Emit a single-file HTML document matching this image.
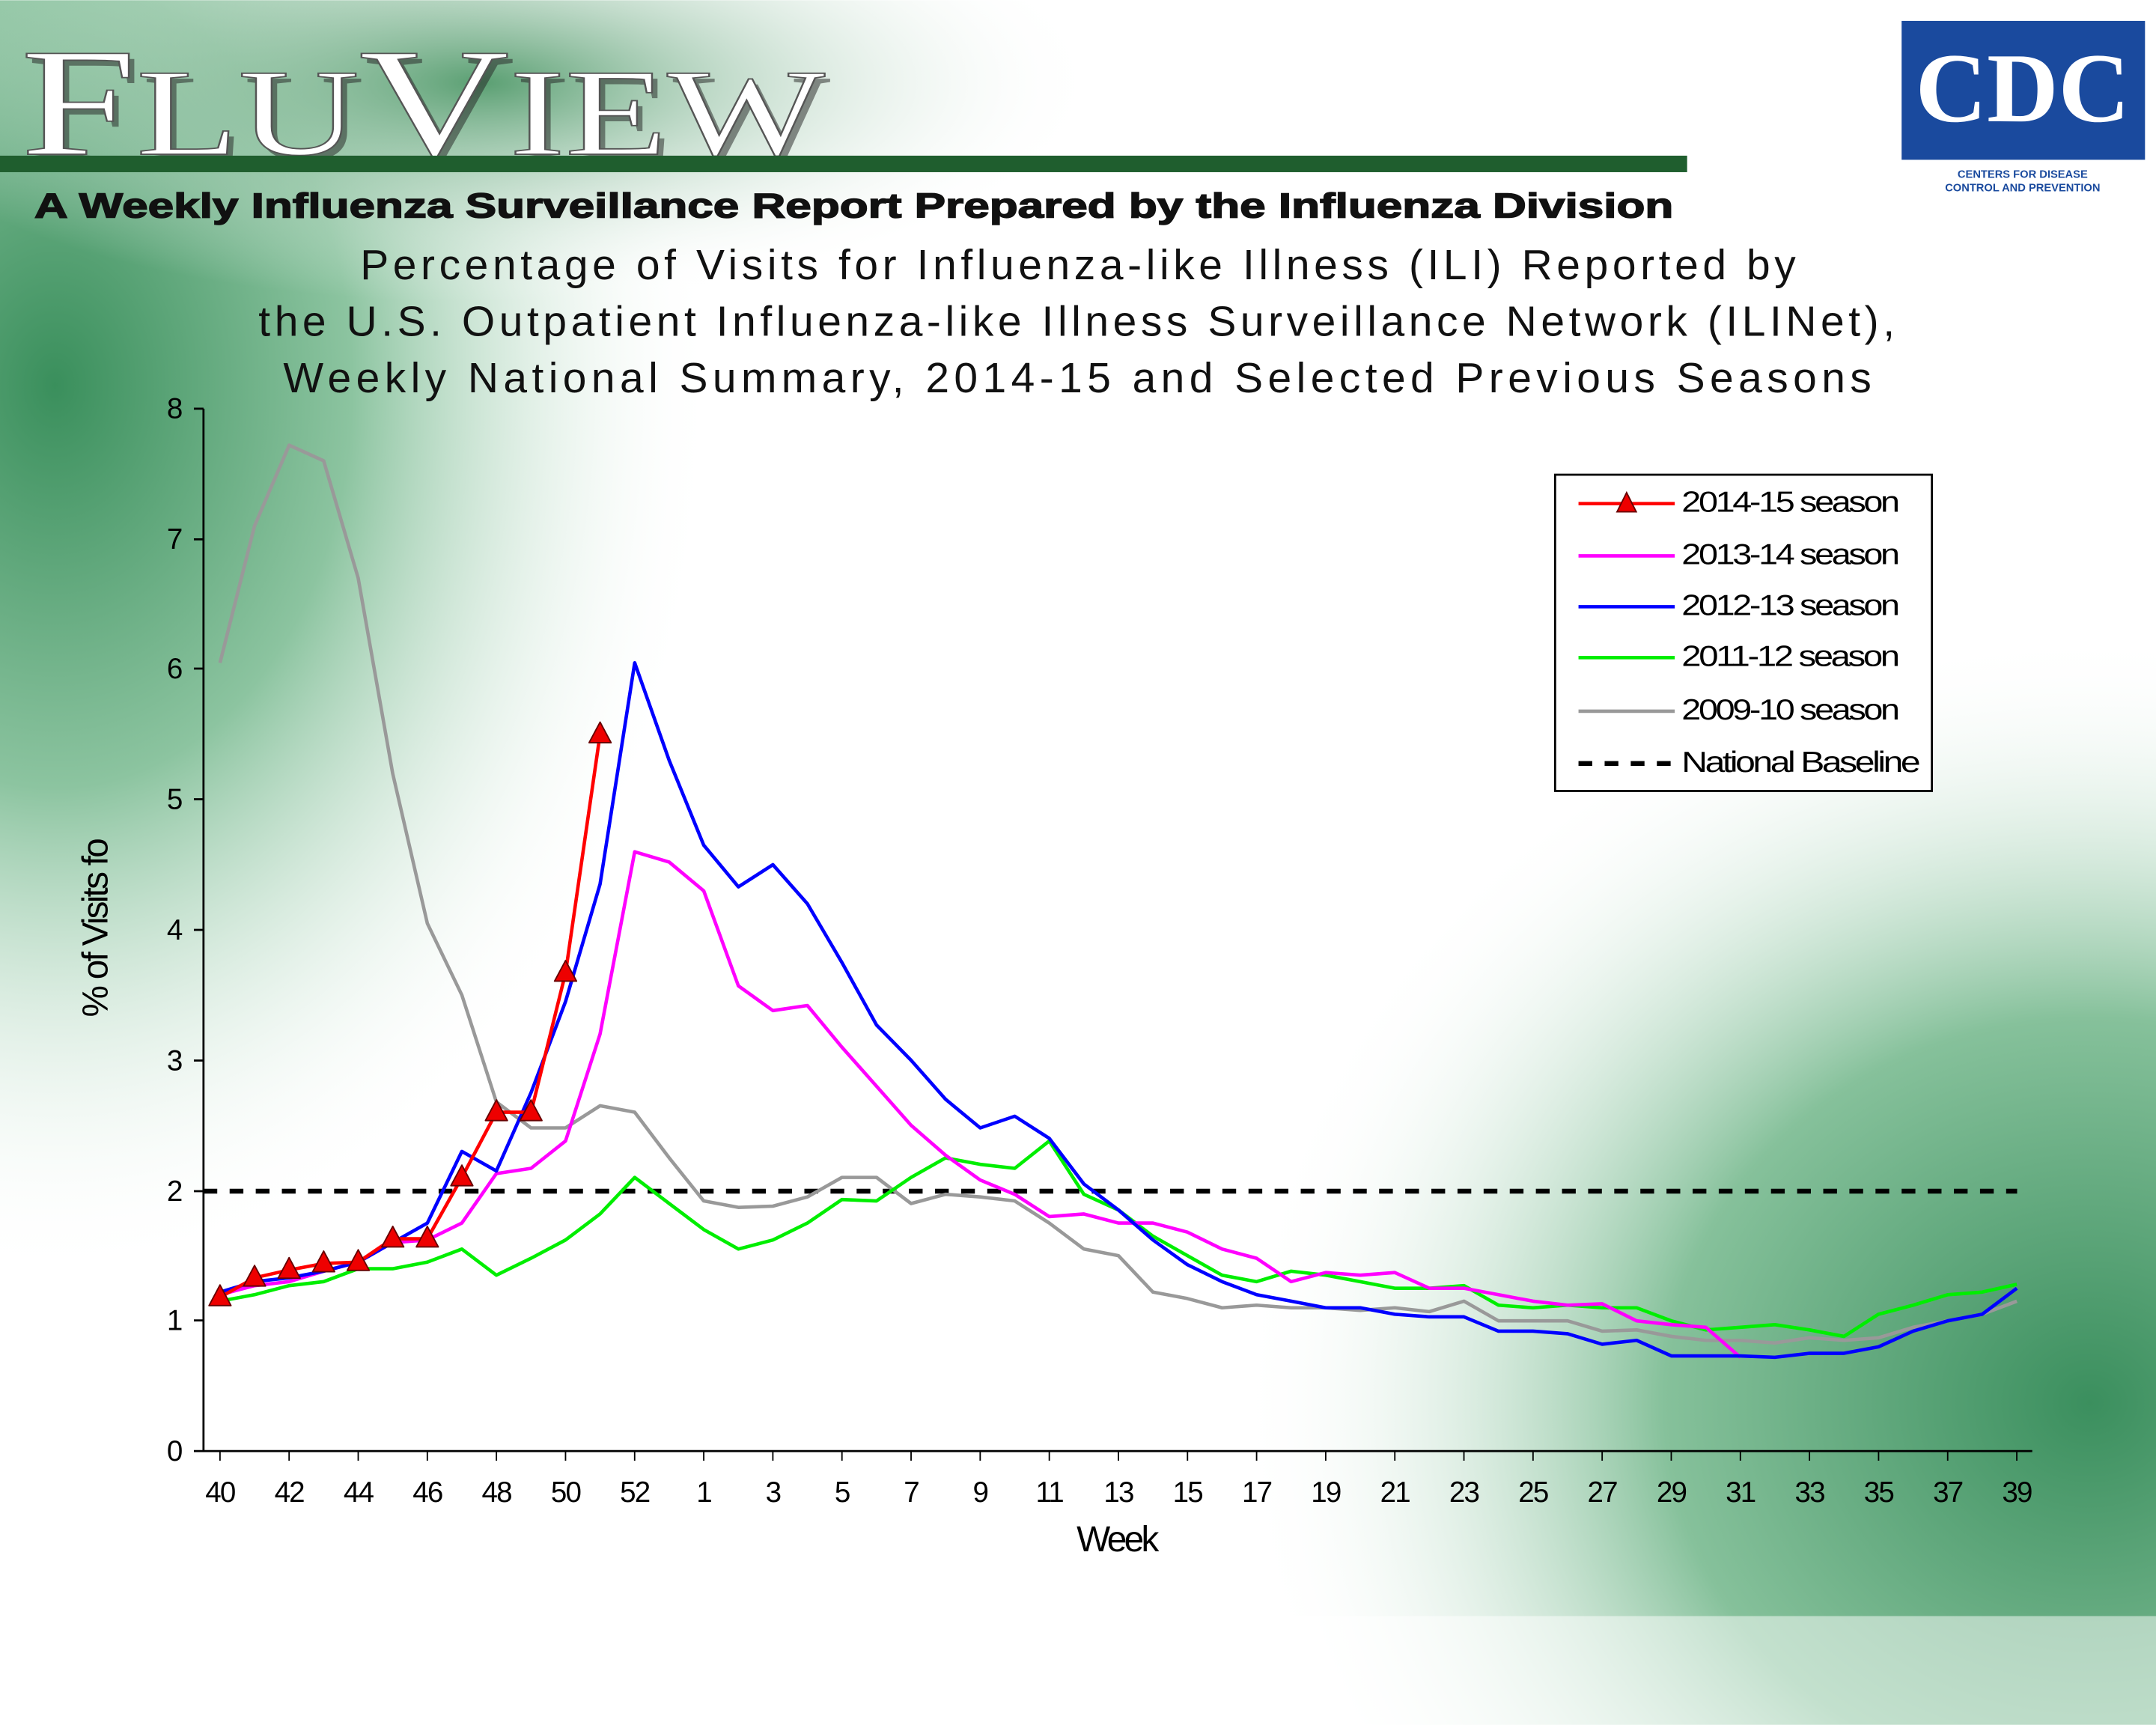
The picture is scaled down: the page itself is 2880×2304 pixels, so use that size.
<!DOCTYPE html>
<html><head><meta charset="utf-8"><style>html,body{margin:0;padding:0;background:#fff}svg{display:block}</style></head>
<body>
<svg width="2880" height="2304" viewBox="0 0 1568 1254" xmlns="http://www.w3.org/2000/svg" font-family="Liberation Sans, sans-serif">
<defs>
<radialGradient id="g1" cx="0" cy="0" r="1" gradientUnits="userSpaceOnUse" gradientTransform="translate(40 280) scale(480 650)">
<stop offset="0" stop-color="#3a8f5c"/><stop offset="0.45" stop-color="#8cc4a0"/><stop offset="1" stop-color="#ffffff" stop-opacity="0"/></radialGradient>
<radialGradient id="g2" cx="0" cy="0" r="1" gradientUnits="userSpaceOnUse" gradientTransform="translate(1520 1020) scale(620 560)">
<stop offset="0" stop-color="#3b8f5e"/><stop offset="0.5" stop-color="#86c19b"/><stop offset="1" stop-color="#ffffff" stop-opacity="0"/></radialGradient>
<radialGradient id="g3" cx="0" cy="0" r="1" gradientUnits="userSpaceOnUse" gradientTransform="translate(350 60) scale(450 160)">
<stop offset="0" stop-color="#5a9f72"/><stop offset="1" stop-color="#ffffff" stop-opacity="0"/></radialGradient>
</defs>
<rect width="1568" height="1254" fill="#fff"/>
<rect width="1568" height="1254" fill="url(#g1)"/>
<rect width="1568" height="1254" fill="url(#g3)"/>
<rect width="1568" height="1254" fill="url(#g2)"/>
<rect x="0" y="1175" width="1568" height="79" fill="#fff" opacity="0.5"/>
<!-- header -->
<text x="19" y="116" font-family="Liberation Serif, serif" font-size="112" fill="#222" opacity="0.5" textLength="585" lengthAdjust="spacingAndGlyphs">F<tspan font-size="90">LU</tspan>V<tspan font-size="90">IEW</tspan></text>
<text x="15" y="112" font-family="Liberation Serif, serif" font-size="112" fill="#fff" stroke="#555" stroke-width="1" textLength="585" lengthAdjust="spacingAndGlyphs">F<tspan font-size="90">LU</tspan>V<tspan font-size="90">IEW</tspan></text>
<rect x="0" y="113" width="1227" height="12" fill="#1f5e2e"/>
<text x="25" y="158" font-size="25" font-weight="bold" fill="#111" stroke="#111" stroke-width="0.8" textLength="1192" lengthAdjust="spacingAndGlyphs">A Weekly Influenza Surveillance Report Prepared by the Influenza Division</text>
<rect x="1383" y="15" width="177" height="101" fill="#1a4a9e"/>
<text x="1471" y="88" text-anchor="middle" font-family="Liberation Serif, serif" font-size="72" font-weight="bold" fill="#fff">CDC</text>
<text x="1471" y="129" text-anchor="middle" font-size="8" font-weight="bold" fill="#1a4a9e">CENTERS FOR DISEASE</text>
<text x="1471" y="139" text-anchor="middle" font-size="8" font-weight="bold" fill="#1a4a9e">CONTROL AND PREVENTION</text>
<!-- title -->
<g font-size="31" fill="#111">
<text x="262" y="203" textLength="1044" lengthAdjust="spacing">Percentage of Visits for Influenza-like Illness (ILI) Reported by</text>
<text x="188" y="244" textLength="1190" lengthAdjust="spacing">the U.S. Outpatient Influenza-like Illness Surveillance Network (ILINet),</text>
<text x="206" y="285" textLength="1155" lengthAdjust="spacing">Weekly National Summary, 2014-15 and Selected Previous Seasons</text>
</g>
<!-- axes -->
<g stroke="#000" stroke-width="1.5" fill="none">
<path d="M148 297 V1055 H1478"/>
<path d="M141 297H148M141 392H148M141 486H148M141 581H148M141 676H148M141 771H148M141 866H148M141 960H148M141 1055H148"/>
</g>
<g font-size="21" fill="#000" text-anchor="end">
<text x="133" y="304">8</text><text x="133" y="399">7</text><text x="133" y="493">6</text><text x="133" y="588">5</text><text x="133" y="683">4</text><text x="133" y="778">3</text><text x="133" y="873">2</text><text x="133" y="967">1</text><text x="133" y="1062">0</text>
</g>
<g id="xt" font-size="21" fill="#000" text-anchor="middle" letter-spacing="-1"></g>
<text x="812" y="1128" font-size="26" text-anchor="middle" letter-spacing="-2">Week</text>
<text transform="translate(78 675) rotate(-90)" font-size="26" text-anchor="middle" letter-spacing="-1.5">% of Visits fo</text>
<line x1="148" y1="866" x2="1467" y2="866" stroke="#000" stroke-width="3.5" stroke-dasharray="10 9"/>
<g id="series" fill="none" stroke-width="2.5" stroke-linejoin="round"></g>
<!-- legend -->
<rect x="1131" y="345" width="274" height="230" fill="#fff" stroke="#000" stroke-width="1.5"/>
<g font-size="21" letter-spacing="-1.5" fill="#000">
<line x1="1148" y1="366" x2="1218" y2="366" stroke="#f00" stroke-width="2.5"/><polygon points="1183,358 1176,372 1190,372" fill="#e00" stroke="#600"/>
<text x="1223" y="372" textLength="157" lengthAdjust="spacingAndGlyphs">2014-15 season</text>
<line x1="1148" y1="404" x2="1218" y2="404" stroke="#f0f" stroke-width="2.5"/><text x="1223" y="410" textLength="157" lengthAdjust="spacingAndGlyphs">2013-14 season</text>
<line x1="1148" y1="441" x2="1218" y2="441" stroke="#00f" stroke-width="2.5"/><text x="1223" y="447" textLength="157" lengthAdjust="spacingAndGlyphs">2012-13 season</text>
<line x1="1148" y1="478" x2="1218" y2="478" stroke="#0e0" stroke-width="2.5"/><text x="1223" y="484" textLength="157" lengthAdjust="spacingAndGlyphs">2011-12 season</text>
<line x1="1148" y1="517" x2="1218" y2="517" stroke="#999" stroke-width="2.5"/><text x="1223" y="523" textLength="157" lengthAdjust="spacingAndGlyphs">2009-10 season</text>
<line x1="1148" y1="555" x2="1218" y2="555" stroke="#000" stroke-width="3.5" stroke-dasharray="10 9"/><text x="1223" y="561" textLength="172" lengthAdjust="spacingAndGlyphs">National Baseline</text>
</g>
<script>
(function(){
var ns="http://www.w3.org/2000/svg";
function X(i){return 160+25.13*i}function Y(v){return 1055-v*94.75}
var xt=document.getElementById('xt');
for(var i=0;i<=52;i+=2){var w=i<=12?40+i:i-13;var t=document.createElementNS(ns,'text');t.setAttribute('x',X(i));t.setAttribute('y',1092);t.textContent=w;xt.appendChild(t);
var l=document.createElementNS(ns,'line');l.setAttribute('x1',X(i));l.setAttribute('x2',X(i));l.setAttribute('y1',1055);l.setAttribute('y2',1062);l.setAttribute('stroke','#000');xt.appendChild(l);}
var S=[
['#999',[6.05,7.1,7.72,7.6,6.7,5.2,4.05,3.5,2.68,2.48,2.48,2.65,2.6,2.25,1.92,1.87,1.88,1.95,2.1,2.1,1.9,1.97,1.95,1.92,1.75,1.55,1.5,1.22,1.17,1.1,1.12,1.1,1.1,1.08,1.1,1.07,1.15,1.0,1.0,1.0,0.92,0.93,0.88,0.85,0.85,0.83,0.87,0.85,0.87,0.95,1.0,1.05,1.15]],
['#0e0',[1.15,1.2,1.27,1.3,1.4,1.4,1.45,1.55,1.35,1.48,1.62,1.82,2.1,1.9,1.7,1.55,1.62,1.75,1.93,1.92,2.1,2.25,2.2,2.17,2.38,1.97,1.85,1.65,1.5,1.35,1.3,1.38,1.35,1.3,1.25,1.25,1.27,1.12,1.1,1.12,1.1,1.1,1.0,0.93,0.95,0.97,0.93,0.88,1.05,1.12,1.2,1.22,1.28]],
['#f0f',[1.2,1.27,1.3,1.38,1.45,1.6,1.62,1.75,2.13,2.17,2.38,3.2,4.6,4.52,4.3,3.57,3.38,3.42,3.1,2.8,2.5,2.27,2.08,1.97,1.8,1.82,1.75,1.75,1.68,1.55,1.48,1.3,1.37,1.35,1.37,1.25,1.25,1.2,1.15,1.12,1.13,1.0,0.97,0.95,0.72]],
['#00f',[1.22,1.3,1.33,1.38,1.45,1.6,1.75,2.3,2.15,2.75,3.45,4.35,6.05,5.3,4.65,4.33,4.5,4.2,3.75,3.27,3.0,2.7,2.48,2.57,2.4,2.05,1.85,1.62,1.43,1.3,1.2,1.15,1.1,1.1,1.05,1.03,1.03,0.92,0.92,0.9,0.82,0.85,0.73,0.73,0.73,0.72,0.75,0.75,0.8,0.92,1.0,1.05,1.25]],
['#f00',[1.18,1.33,1.39,1.44,1.45,1.63,1.63,2.1,2.6,2.6,3.67,5.5]]];
var g=document.getElementById('series');
S.forEach(function(s){var d='';s[1].forEach(function(v,i){d+=(i?'L':'M')+X(i).toFixed(1)+' '+Y(v).toFixed(1)});
var p=document.createElementNS(ns,'path');p.setAttribute('d',d);p.setAttribute('stroke',s[0]);g.appendChild(p);
if(s[0]=='#f00'){s[1].forEach(function(v,i){var x=X(i),y=Y(v);var q=document.createElementNS(ns,'polygon');q.setAttribute('points',x+','+(y-9)+' '+(x-8)+','+(y+6)+' '+(x+8)+','+(y+6));q.setAttribute('fill','#e00');q.setAttribute('stroke','#600');q.setAttribute('stroke-width','1');g.appendChild(q);});}});
})();
</script>
</svg>
</body></html>
